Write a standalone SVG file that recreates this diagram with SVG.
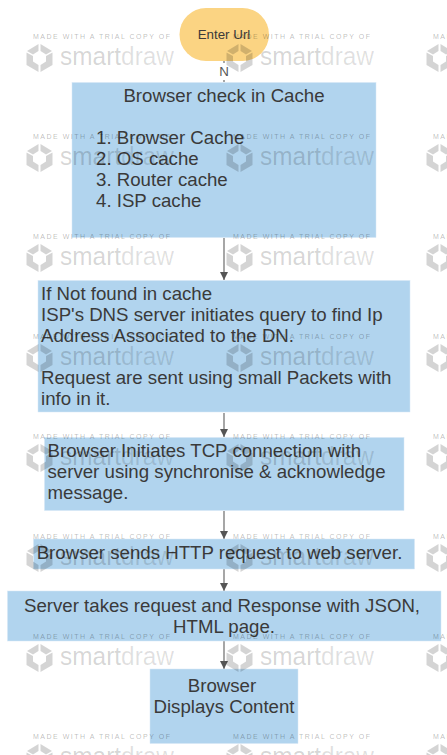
<svg xmlns="http://www.w3.org/2000/svg" width="447" height="755" viewBox="0 0 447 755">
<style>
text{font-family:"Liberation Sans",Arial,sans-serif;fill:#3a3a3a}
.b{fill:#b1d4ee;stroke:#d6e8f5;stroke-width:.5}
.t{font-size:18.67px}
.m{text-anchor:middle}
.c{stroke:#777;stroke-width:1.3;fill:none;marker-end:url(#a)}
text.w{font-size:7px;fill:#000;fill-opacity:.28}
text.l{font-size:25px;fill:#000;fill-opacity:.17}
text.l tspan{fill:#000;fill-opacity:.12}
.k{fill:#000;fill-opacity:.17}
text.n{font-size:13.33px;fill:#555}
</style>
<defs>
<marker id="a" markerUnits="userSpaceOnUse" markerWidth="9" markerHeight="9" refX="8.500" refY="4.500" orient="auto"><path d="M0 .25L8.500 4.500L0 8.750z" fill="#555"/></marker>
<g id="wm">
<text class="w" x="33" y="39" textLength="137">MADE WITH A TRIAL COPY OF</text>
<path class="k" d="M38.500 44L27 51L33 54.500L38.500 51zM40.500 44L52 51L46 54.500L40.500 51zM26.500 52.500V65L38.500 72V65L33 61.500V56zM52.500 52.500V65L40.500 72V65L46 61.500V56z"/>
<text class="l" x="60" y="65" textLength="114" lengthAdjust="spacingAndGlyphs">smart<tspan>draw</tspan></text>
</g>
</defs>
<g id="connectors">
<path d="M224 61V82" stroke="#777" stroke-width="1.300"/>
<path class="c" d="M224 238V280"/>
<path class="c" d="M224 413V437"/>
<path class="c" d="M224 511V539"/>
<path class="c" d="M224 569V591"/>
<path class="c" d="M224 641V669"/>
<rect x="218" y="63" width="12" height="17" fill="#fff"/>
<text x="224" y="76" class="m n">N</text>
</g>
<g id="start"><rect x="179.500" y="8" width="89.500" height="53" rx="26.500" fill="#fbd483"/><text x="224" y="39" class="m" font-size="13.330">Enter Url</text></g>
<g id="cache"><rect class="b" x="72" y="82.500" width="304" height="155"/>
<text class="t m" x="224" y="101.500">Browser check in Cache</text>
<text class="t" x="96" y="144">1. Browser Cache</text>
<text class="t" x="96" y="165">2. OS cache</text>
<text class="t" x="96" y="186">3. Router cache</text>
<text class="t" x="96" y="207">4. ISP cache</text></g>
<g id="dns"><rect class="b" x="38" y="280.500" width="372" height="131.500"/>
<text class="t" x="41" y="300">If Not found in cache</text>
<text class="t" x="41" y="321">ISP's DNS server initiates query to find Ip</text>
<text class="t" x="41" y="342">Address Associated to the DN.</text>
<text class="t" x="41" y="384">Request are sent using small Packets with</text>
<text class="t" x="41" y="405">info in it.</text></g>
<g id="tcp"><rect class="b" x="44.500" y="437.500" width="359.500" height="73"/>
<text class="t" x="47.500" y="457">Browser Initiates TCP connection with</text>
<text class="t" x="47.500" y="478">server using synchronise &amp; acknowledge</text>
<text class="t" x="47.500" y="499">message.</text></g>
<g id="http"><rect class="b" x="33.500" y="539" width="381" height="30"/>
<text class="t m" x="219.500" y="559">Browser sends HTTP request to web server.</text></g>
<g id="response"><rect class="b" x="7.500" y="591" width="433.500" height="50"/>
<text class="t m" x="222" y="612">Server takes request and Response with JSON,</text>
<text class="t m" x="224" y="633">HTML page.</text></g>
<g id="display"><rect class="b" x="150" y="669" width="148" height="74.500"/>
<text class="t m" x="222" y="692">Browser</text>
<text class="t m" x="224" y="713">Displays Content</text></g>
<g id="watermark">
<use href="#wm" x="0" y="0"/><use href="#wm" x="200" y="0"/><use href="#wm" x="400" y="0"/>
<use href="#wm" x="0" y="100"/><use href="#wm" x="200" y="100"/><use href="#wm" x="400" y="100"/>
<use href="#wm" x="0" y="200"/><use href="#wm" x="200" y="200"/><use href="#wm" x="400" y="200"/>
<use href="#wm" x="0" y="300"/><use href="#wm" x="200" y="300"/><use href="#wm" x="400" y="300"/>
<use href="#wm" x="0" y="400"/><use href="#wm" x="200" y="400"/><use href="#wm" x="400" y="400"/>
<use href="#wm" x="0" y="500"/><use href="#wm" x="200" y="500"/><use href="#wm" x="400" y="500"/>
<use href="#wm" x="0" y="600"/><use href="#wm" x="200" y="600"/><use href="#wm" x="400" y="600"/>
<use href="#wm" x="0" y="700"/><use href="#wm" x="200" y="700"/><use href="#wm" x="400" y="700"/>
</g>
</svg>
